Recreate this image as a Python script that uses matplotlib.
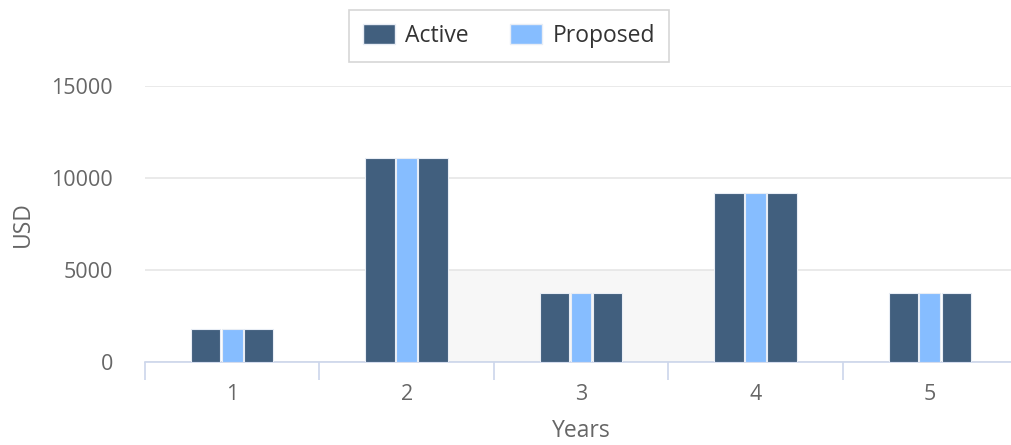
import matplotlib
matplotlib.use("Agg")
import matplotlib.pyplot as plt
from matplotlib.patches import Patch
import numpy as np

plt.rcParams['font.family'] = ['Open Sans', 'DejaVu Sans']

years = ["1", "2", "3", "4", "5"]
active = [1800, 11100, 3750, 9200, 3750]
proposed = [1800, 11100, 3750, 9200, 3750]
active_2 = [1800, 11100, 3750, 9200, 3750]
band_from, band_to, band_top = 2, 4, 5000

DARK = "#415f7e"
LIGHT = "#86bdff"
EDGE = "#e8edf5"
W_DARK = 0.168
W_LIGHT = 0.12
OFF = 0.152


def main():
    fig = plt.figure(figsize=(10.12, 4.45), dpi=100)
    ax = fig.add_axes([145 / 1012, 1 - 362 / 445, 872 / 1012, 276 / 445])
    x = np.arange(1, len(years) + 1)

    # shaded band between group 2 and group 4
    x0 = band_from + OFF + W_DARK / 2
    x1 = band_to - OFF - W_DARK / 2
    ax.fill_between([x0, x1], 0, band_top, color="#f7f7f7", zorder=0.5, lw=0)

    ax.bar(x - OFF, active, W_DARK, color=DARK, edgecolor=EDGE, linewidth=0.8, zorder=3)
    ax.bar(x, proposed, W_LIGHT, color=LIGHT, edgecolor=EDGE, linewidth=0.8, zorder=3)
    ax.bar(x + OFF, active_2, W_DARK, color=DARK, edgecolor=EDGE, linewidth=0.8, zorder=3)

    ax.set_xlim(0.5, 5.5)
    ax.set_ylim(0, 15000)
    ax.set_yticks([0, 5000, 10000, 15000])
    ax.set_yticklabels(["0", "5000", "10000", "15000"])
    ax.yaxis.grid(True, color="#e6e6e6", linewidth=1.2, zorder=0)
    ax.set_axisbelow(True)

    ax.set_xticks(x)
    ax.set_xticklabels(years)
    ax.set_xticks(np.arange(0.5, 6, 1), minor=True)
    ax.tick_params(axis="x", which="major", length=0, pad=16, labelsize=15.5, labelcolor="#666666")
    ax.tick_params(axis="x", which="minor", length=13, width=1.2, color="#ccd6eb")
    ax.tick_params(axis="y", length=0, pad=23, labelsize=15.5, labelcolor="#666666")

    for s in ["top", "right", "left"]:
        ax.spines[s].set_visible(False)
    ax.spines["bottom"].set_color("#ccd6eb")
    ax.spines["bottom"].set_linewidth(1.2)

    ax.set_xlabel("Years", fontsize=16.5, color="#666666", labelpad=10)
    ax.set_ylabel("USD", fontsize=16.5, color="#666666", labelpad=12)

    handles = [Patch(facecolor=DARK, edgecolor=EDGE, label="Active"),
               Patch(facecolor=LIGHT, edgecolor=EDGE, label="Proposed")]
    leg = fig.legend(handles=handles, loc="center", bbox_to_anchor=(509 / 1012, 1 - 36 / 445),
                     ncol=2, fontsize=16.5, frameon=True, fancybox=False,
                     handlelength=1.4, handleheight=0.95, handletextpad=0.45,
                     columnspacing=1.8, borderpad=0.62, borderaxespad=0,
                     labelcolor="#333333")
    leg.get_frame().set_edgecolor("#cccccc")
    leg.get_frame().set_linewidth(1.2)

    fig.savefig("out.png", dpi=100)


main()
